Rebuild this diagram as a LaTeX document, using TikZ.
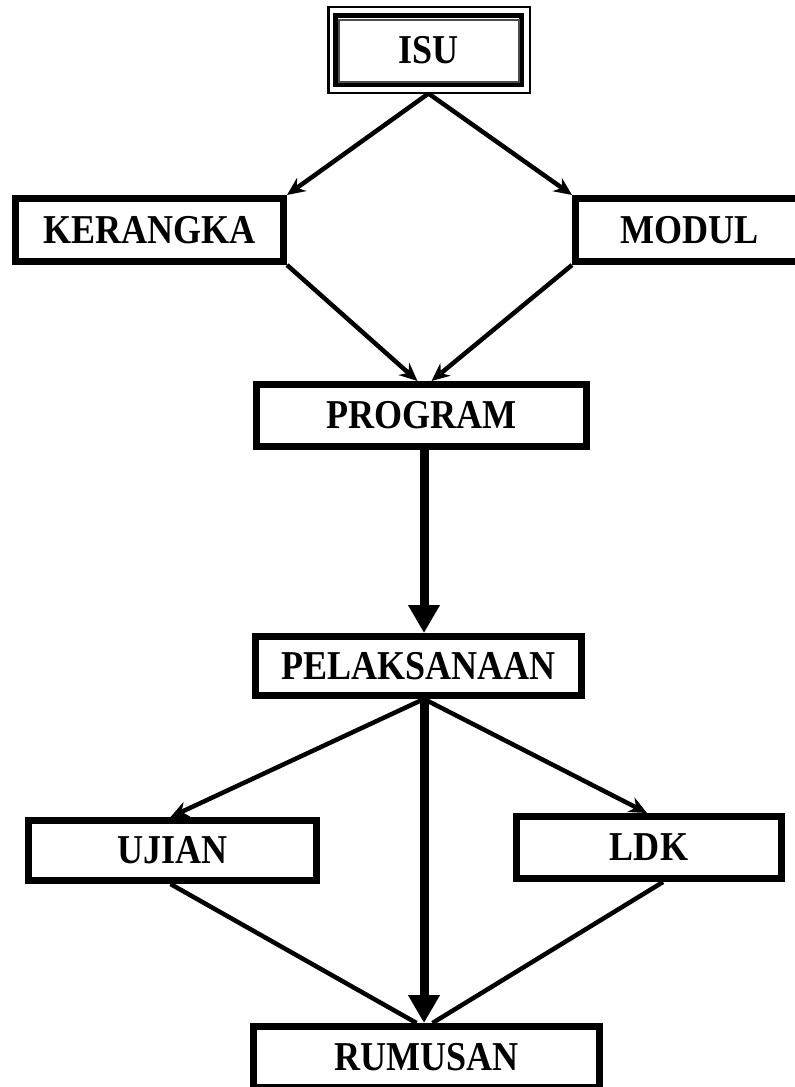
\documentclass[tikz,border=0pt]{standalone}
\usepackage{fontspec}
\setmainfont{Liberation Serif}
\newfontfamily\boxfont[FakeStretch=0.88]{Liberation Serif}
\usetikzlibrary{arrows.meta,positioning}

\begin{document}
\begin{tikzpicture}[on grid,
        box/.style={draw,line width=7pt,inner sep=0pt,minimum height=62pt,font=\boxfont\bfseries\fontsize{41}{44}\selectfont},
        thinarrow/.style={line width=4.5pt,-{Stealth[length=18pt,width=16pt]}},
        thickarrow/.style={line width=9pt,-{Triangle[length=28pt,width=30pt]}}]
        \clip (0,0) rectangle (795pt,-1087pt);
        \node[box,line width=5pt,minimum width=185.5pt,minimum height=69pt] (isu) at (428.5pt,-50pt) {ISU};
        \draw[line width=2.5pt] ([shift={(-5pt,6pt)}]isu.north west) rectangle ([shift={(6pt,-6pt)}]isu.south east);
        \draw[line width=2pt,black!70] ([shift={(5.5pt,-6.5pt)}]isu.north west) rectangle ([shift={(-4.5pt,5.5pt)}]isu.south east);
        \node[box,minimum width=268pt,minimum height=63pt] (ker) [below left=180pt and 279pt of isu] {KERANGKA};
        \node[box,minimum width=228pt,minimum height=63pt] (mod) [below right=180pt and 261pt of isu] {MODUL};
        \node[box,minimum width=330pt] (pro) [below left=365.5pt and 7pt of isu] {PROGRAM};
        \node[box,minimum width=326pt,minimum height=59pt] (pel) [below left=250.5pt and 3pt of pro] {PELAKSANAAN};
        \node[box,minimum width=288pt,minimum height=60pt] (uji) [below left=184.5pt and 246pt of pel] {UJIAN};
        \node[box,minimum width=265pt] (ldk) [below right=181.5pt and 230.5pt of pel] {LDK};
        \node[box,minimum width=346pt,minimum height=61pt] (rum) [below right=391pt and 8pt of pel] {RUMUSAN};
        \path[thinarrow]
        ([yshift=-6.5pt]isu.south) edge (ker.north east)
                                   edge (mod.north west)
        (ker.south east) edge ([xshift=-4pt]pro.north)
        (mod.south west) edge ([xshift=10pt]pro.north)
        ([xshift=5.5pt]pel.south) edge ([xshift=-2pt]uji.north)
                                  edge ([xshift=-2pt]ldk.north);
        \path[thickarrow]
        ([xshift=2.5pt]pro.south) edge ([xshift=5.5pt]pel.north)
        ([xshift=5.5pt]pel.south) edge ([xshift=-2.5pt]rum.north);
        \path[line width=4.5pt]
        ([xshift=-2pt]uji.south) edge ([xshift=-10pt]rum.north)
        ([xshift=14pt]ldk.south) edge ([xshift=6pt]rum.north);
      \end{tikzpicture}
\end{document}
